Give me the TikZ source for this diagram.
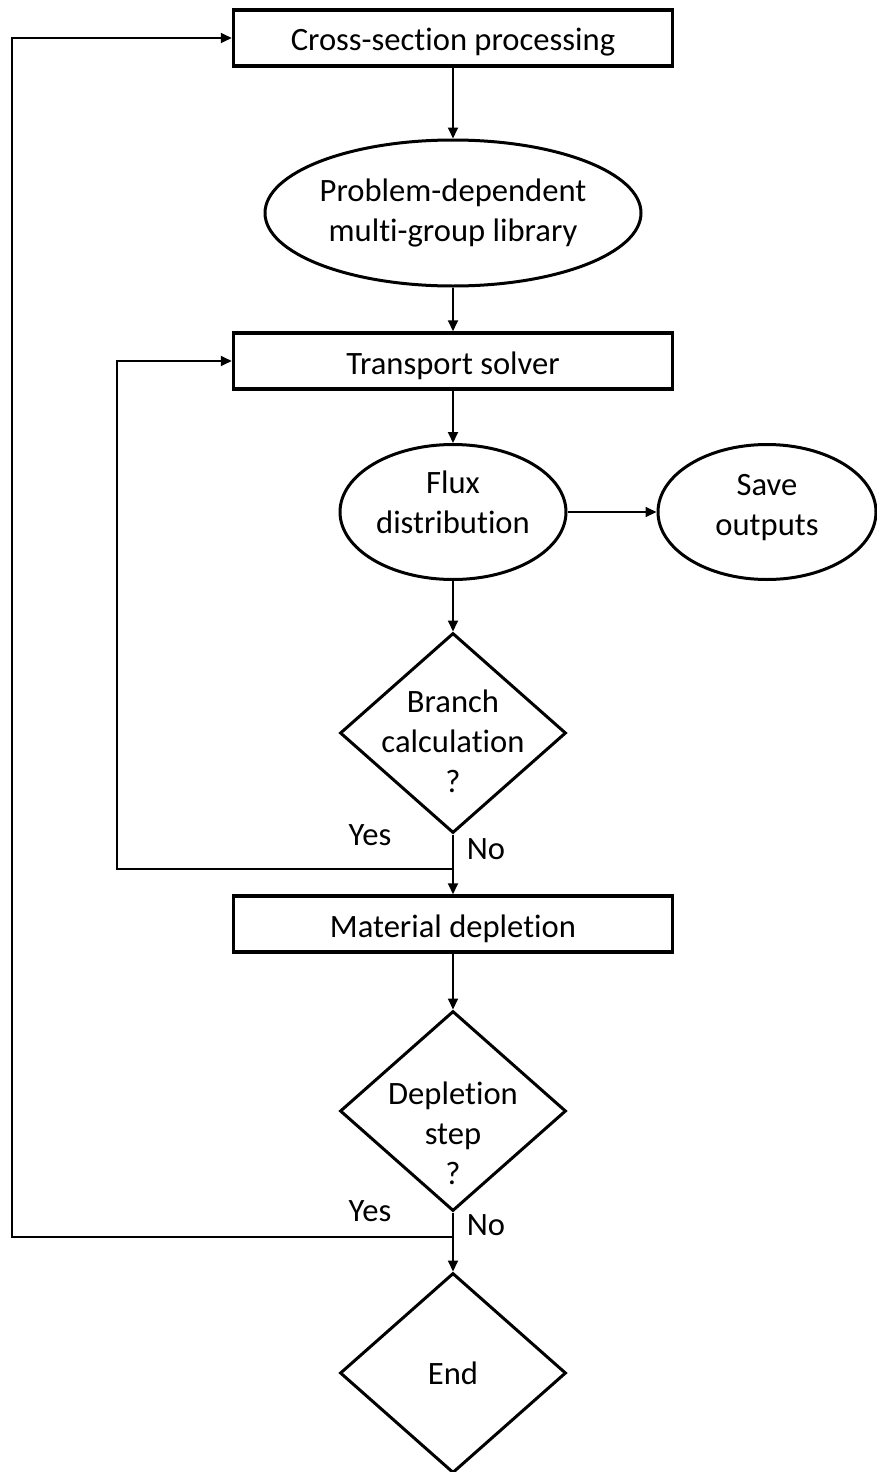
\documentclass[tikz,border=0pt]{standalone}
\usepackage{fontspec}
\setmainfont[Ligatures=NoCommon]{Carlito}
\usetikzlibrary{shapes.geometric,arrows.meta}

\tikzset{
  every node/.style={font=\fontsize{32.6}{40}\selectfont},
  stepbox/.style={draw,line width=3.5pt,minimum width=439pt,minimum height=56pt,inner sep=0pt,text height=26pt,text depth=0pt},
  oval/.style={draw,ellipse,line width=3pt,inner sep=0pt},
  choice/.style={draw,diamond,line width=3pt,inner sep=0pt,minimum width=226pt,minimum height=200pt},
  intext/.style={label={[align=center]center:#1}},
  flow/.style={line width=1.8pt,-{Triangle[length=11pt,width=10pt]}}
}

\begin{document}
\begin{tikzpicture}[x=1pt,y=-1pt]
  \useasboundingbox (0,0) rectangle (877,1472);
  % main column
  \node[stepbox] (xs) at (453,38) {Cross-section processing};
  \node[oval,minimum width=376pt,minimum height=146pt,intext={Problem-dependent\\multi-group library}] (lib) at (453,213) {};
  \node[stepbox] (solver) at (453,361) {Transport solver};
  \node[oval,minimum width=226pt,minimum height=135pt,label={[align=center,yshift=10pt]center:Flux\\distribution}] (flux) at (453,512) {};
  \node[oval,minimum width=218pt,minimum height=135pt,label={[align=center,yshift=4pt]center:Save\\outputs}] (save) at (767,512) {};
  \node[choice,label={[align=center,yshift=-8pt]center:Branch\\calculation\\?}] (branch) at (453,733) {};
  \node[stepbox] (deplete) at (453,924) {Material depletion};
  \node[choice,label={[align=center,yshift=-22pt]center:Depletion\\step\\?}] (step) at (453,1111) {};
  \node[choice,intext=End] (fin) at (453,1373) {};
  % straight links
  \draw[flow] (xs) -- (lib);
  \draw[flow] (lib) -- (solver);
  \draw[flow] (solver) -- (flux);
  \draw[flow] (flux) -- (save);
  \draw[flow] (flux) -- (branch);
  \draw[flow] (branch) -- (deplete);
  \draw[flow] (deplete) -- (step);
  \draw[flow] (step) -- (fin);
  % feedback loops
  \coordinate (backA) at (117,869);
  \coordinate (backB) at (12,1237);
  \draw[flow] (branch.south |- backA) -- (backA) |- (solver);
  \draw[flow] (step.south |- backB) -- (backB) |- (xs);
  % branch labels
  \node (yesA) at (370,835) {Yes};
  \node (noA) at (486,849) {No};
  \node (yesB) at (370,1211) {Yes};
  \node (noB) at (486,1225) {No};
\end{tikzpicture}
\end{document}
